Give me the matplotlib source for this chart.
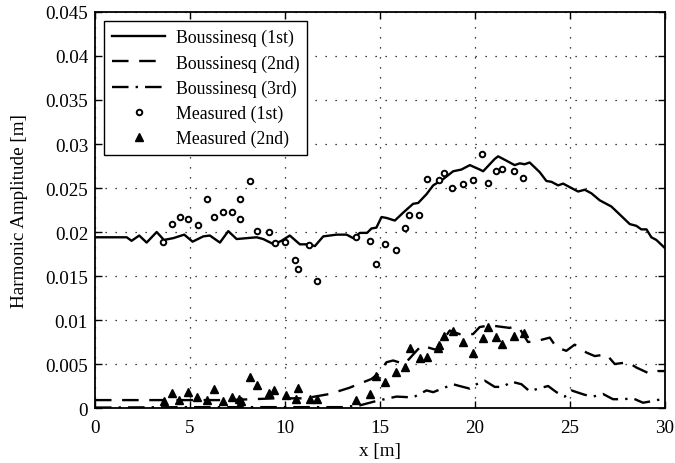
import matplotlib
matplotlib.use('Agg')
import matplotlib.pyplot as plt
import numpy as np

plt.rcParams['font.family'] = ['Liberation Serif', 'DejaVu Serif']
plt.rcParams['mathtext.fontset'] = 'stix'

# Boussinesq 1st harmonic
x1 = [0, 1.0, 1.67, 1.93, 2.33, 2.72, 3.25, 3.63, 4.12, 4.70, 5.14, 5.7, 6.05, 6.58, 7.02, 7.46,
      7.98, 8.51, 8.86, 9.42, 9.82, 10.26, 10.79, 11.23, 11.58, 12.02, 12.72, 13.25, 13.6, 13.95,
      14.33, 14.56, 14.82, 15.09, 15.35, 15.79, 16.23, 16.75, 17.02, 17.46, 17.81, 18.33, 18.86,
      19.3, 19.74, 20.26, 20.44, 21.05, 21.23, 21.67, 22.1, 22.37, 22.63, 22.89, 23.42, 23.77,
      24.04, 24.39, 24.65, 25.0, 25.44, 25.79, 26.14, 26.58, 27.19, 27.63, 28.16, 28.51, 28.77,
      29.04, 29.3, 29.56, 30.0]
y1 = [0.0194, 0.0194, 0.0194, 0.0190, 0.0196, 0.0188, 0.0200, 0.0191, 0.0193, 0.0197, 0.0189,
      0.0195, 0.0196, 0.0188, 0.0201, 0.0192, 0.0193, 0.0194, 0.0192, 0.0186, 0.0190, 0.0196,
      0.0186, 0.0186, 0.0184, 0.0195, 0.0197, 0.0197, 0.0193, 0.0199, 0.0199, 0.0204, 0.0205,
      0.0217, 0.0216, 0.0213, 0.0222, 0.0232, 0.0233, 0.0243, 0.0253, 0.0260, 0.0269, 0.0271,
      0.0276, 0.0271, 0.0269, 0.0283, 0.0286, 0.0281, 0.0276, 0.0278, 0.0277, 0.0279, 0.0268,
      0.0258, 0.0257, 0.0253, 0.0255, 0.0251, 0.0246, 0.0248, 0.0244, 0.0236, 0.0229, 0.0220,
      0.0209, 0.0207, 0.0203, 0.0203, 0.0194, 0.0191, 0.0182]

# Boussinesq 2nd harmonic
x2 = [0, 3.0, 7.0, 9.5, 11.05, 12.37, 13.4, 13.86, 14.56, 14.91, 15.35, 15.7, 16.3, 17.19, 17.98,
      18.68, 19.2, 19.91, 20.26, 20.79, 21.84, 22.1, 22.37, 22.8, 23.25, 23.95, 24.3, 24.82,
      25.26, 25.88, 26.32, 26.93, 27.37, 28.07, 28.51, 29.21, 29.65, 30.0]
y2 = [0.0009, 0.0009, 0.0009, 0.0011, 0.0011, 0.0016, 0.0023, 0.0027, 0.0033, 0.0039, 0.0052,
      0.0054, 0.0050, 0.0071, 0.0066, 0.0088, 0.0084, 0.0084, 0.0092, 0.0094, 0.0091, 0.0093,
      0.0090, 0.0075, 0.0076, 0.0080, 0.0069, 0.0065, 0.0072, 0.0063, 0.0059, 0.0061, 0.0050,
      0.0052, 0.0046, 0.0039, 0.0042, 0.0042]

# Boussinesq 3rd harmonic
x3 = [0, 5.0, 10.0, 13.0, 13.95, 14.82, 15.88, 16.75, 17.46, 17.81, 18.86, 19.2, 19.74, 20.09,
      20.53, 21.05, 21.49, 21.93, 22.46, 22.89, 23.33, 23.86, 24.3, 24.74, 25.09, 25.79, 26.23,
      26.75, 27.28, 27.81, 28.33, 28.86, 29.39, 29.82, 30.0]
y3 = [0.00005, 0.0001, 0.0001, 0.0001, 0.0003, 0.0008, 0.0013, 0.0012, 0.0020, 0.0018, 0.0027,
      0.0025, 0.0022, 0.0027, 0.0031, 0.0024, 0.0024, 0.0030, 0.0027, 0.0019, 0.0022, 0.0025,
      0.0018, 0.0013, 0.0020, 0.0015, 0.0013, 0.0016, 0.0010, 0.0010, 0.0011, 0.0006, 0.0008,
      0.0010, 0.0009]

# measured 1st harmonic
xm1 = [3.6, 4.03, 4.47, 4.89, 5.40, 5.89, 6.26, 6.75, 7.21, 7.65, 7.65, 8.14, 8.53, 9.16, 9.47,
       10.03, 10.54, 10.68, 11.26, 11.7, 13.72, 14.46, 14.82, 15.26, 15.84, 16.35, 16.56, 17.07,
       17.51, 18.09, 18.39, 18.81, 19.39, 19.91, 20.4, 20.7, 21.12, 21.42, 22.05, 22.56]
ym1 = [0.0189, 0.0209, 0.0217, 0.0215, 0.0208, 0.0238, 0.0217, 0.0223, 0.0223, 0.0238, 0.0215,
       0.0258, 0.0201, 0.0200, 0.0187, 0.0189, 0.0168, 0.0158, 0.0185, 0.0144, 0.0194, 0.0190,
       0.0164, 0.0186, 0.0180, 0.0205, 0.0219, 0.0219, 0.0260, 0.0259, 0.0267, 0.0250, 0.0254,
       0.0259, 0.0289, 0.0256, 0.0269, 0.0272, 0.0269, 0.0261]

# measured 2nd harmonic
xm2 = [3.63, 4.03, 4.44, 4.88, 5.39, 5.88, 6.26, 6.75, 7.19, 7.61, 7.68, 8.16, 8.51, 9.17, 9.44,
       10.06, 10.56, 10.7, 11.32, 11.7, 13.75, 14.46, 14.82, 15.28, 15.84, 16.35, 16.58, 17.09,
       17.51, 18.05, 18.12, 18.37, 18.83, 19.39, 19.9, 20.44, 20.7, 21.14, 21.44, 22.05, 22.58]
ym2 = [0.00083, 0.00167, 0.00091, 0.00182, 0.00121, 0.00091, 0.00216, 0.00076, 0.00121, 0.00099,
       0.00076, 0.00356, 0.00265, 0.00167, 0.00205, 0.00151, 0.00102, 0.00227, 0.00102, 0.00102,
       0.00091, 0.00156, 0.00367, 0.00295, 0.00413, 0.00462, 0.00682, 0.00564, 0.00583, 0.00682,
       0.00716, 0.00814, 0.00879, 0.00746, 0.00625, 0.00792, 0.00917, 0.00803, 0.00731, 0.00814,
       0.00852]

fig = plt.figure(figsize=(6.75, 4.64), dpi=100)
ax = fig.add_axes([0.1407, 0.1185, 0.844, 0.8535])

ax.plot(x1, y1, 'k-', lw=1.7, label='Boussinesq (1st)')
ax.plot(x2, y2, 'k--', lw=1.7, dashes=(7, 4.5), label='Boussinesq (2nd)')
ax.plot(x3, y3, 'k-.', lw=1.7, dashes=(7, 3, 1, 3), label='Boussinesq (3rd)')
ax.plot(xm1, ym1, 'o', ls='none', mfc='white', mec='k', mew=1.4, ms=4, label='Measured (1st)')
ax.plot(xm2, ym2, '^', ls='none', mfc='k', mec='k', ms=5.5, label='Measured (2nd)')

ax.set_xlim(0, 30)
ax.set_ylim(0, 0.045)
ax.set_xticks(np.arange(0, 31, 5))
ax.set_yticks(np.arange(0, 0.0451, 0.005))
ax.set_yticklabels(['0', '0.005', '0.01', '0.015', '0.02', '0.025', '0.03', '0.035', '0.04', '0.045'])
ax.grid(True, color='k', ls=(0, (1, 7)), lw=0.9)
ax.tick_params(direction='in', top=True, right=True, labelsize=13.8, length=5, width=1)
ax.tick_params(axis='x', pad=8)
ax.tick_params(axis='y', pad=5)
for s in ax.spines.values():
    s.set_linewidth(1.3)

ax.set_xlabel('x [m]', fontsize=13.8, labelpad=4)
ax.set_ylabel('Harmonic Amplitude [m]', fontsize=13.8, labelpad=12)

leg = ax.legend(loc='upper left', fontsize=12.8, fancybox=False, framealpha=1,
                edgecolor='k', handlelength=3.0, borderaxespad=0.5, labelspacing=0.45,
                borderpad=0.45, handletextpad=0.6)
leg.get_frame().set_linewidth(1.0)

fig.savefig('out.png', dpi=100)
